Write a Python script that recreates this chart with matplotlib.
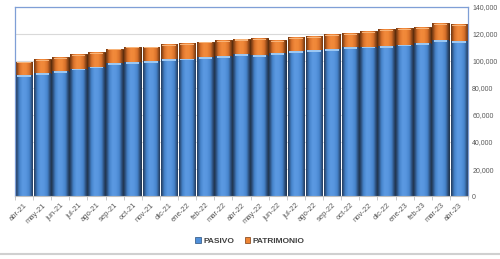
import matplotlib
matplotlib.use("Agg")
import matplotlib.pyplot as plt
import numpy as np
from matplotlib.lines import Line2D
from matplotlib.patches import Patch
from matplotlib.colors import LinearSegmentedColormap

meses = ["abr-21", "may-21", "jun-21", "jul-21", "ago-21", "sep-21", "oct-21", "nov-21",
         "dic-21", "ene-22", "feb-22", "mar-22", "abr-22", "may-22", "jun-22", "jul-22",
         "ago-22", "sep-22", "oct-22", "nov-22", "dic-22", "ene-23", "feb-23", "mar-23", "abr-23"]
pasivo = [89.4, 90.9, 92.3, 94.3, 95.8, 98.3, 99.0, 99.8, 101.2, 101.7, 102.7, 103.7, 105.0,
          104.4, 105.7, 107.4, 107.9, 108.6, 110.1, 110.6, 110.9, 112.1, 113.1, 115.3, 114.8]
total = [99.5, 101.2, 102.7, 105.0, 106.4, 109.1, 110.6, 110.6, 112.3, 113.1, 114.3, 115.3, 116.3,
         116.8, 115.3, 117.5, 118.3, 119.7, 120.5, 122.0, 123.5, 124.2, 124.9, 127.9, 127.2]
patrimonio = [t - p for t, p in zip(total, pasivo)]
yticks = [0, 20, 40, 60, 80, 100, 120, 140]
ylabels = ["0", "20,000", "40,000", "60,000", "80,000", "100,000", "120,000", "140,000"]

plt.rcParams['font.family'] = ['Liberation Sans', 'DejaVu Sans']
fig = plt.figure(figsize=(5, 2.59), dpi=100)
ax = fig.add_axes([0.03, 0.243, 0.906, 0.730])

x = np.arange(len(meses))
w = 0.92
blue_c = "#4f8fd9"
orange_c = "#ee8433"
b1 = ax.bar(x, pasivo, width=w, color=blue_c, edgecolor="#1e3550", linewidth=0.7, zorder=2)
b2 = ax.bar(x, patrimonio, width=w, bottom=pasivo, color=orange_c, edgecolor="#5a2a08",
            linewidth=0.7, zorder=2)


def shade(bars, cmap_colors):
    cm = LinearSegmentedColormap.from_list("g", cmap_colors)
    grad = np.linspace(0, 1, 64).reshape(1, -1)
    for r in bars:
        x0, y0 = r.get_x(), r.get_y()
        ww, hh = r.get_width(), r.get_height()
        im = ax.imshow(grad, cmap=cm, extent=[x0, x0 + ww, y0, y0 + hh], aspect="auto",
                       zorder=2.1, interpolation="bicubic")
        im.set_clip_path(r)


shade(b1, ["#22395a", "#4684cc", "#5c9ae3", "#5896df", "#4684cc", "#22395a"])
shade(b2, ["#6b3410", "#d9712a", "#f28a3c", "#f08838", "#d9712a", "#6b3410"])
ax.bar(x, [1.2] * len(x), width=w * 0.8, bottom=[p - 1.2 for p in pasivo], color="#9cc7f2",
       zorder=2.2, linewidth=0)
ax.bar(x, [1.0] * len(x), width=w * 0.8, bottom=[t - 1.2 for t in total], color="#f7b47a",
       zorder=2.2, linewidth=0)

ax.set_xlim(-0.5, len(meses) - 0.5)
ax.set_ylim(0, 140)
ax.set_yticks(yticks)
ax.set_yticklabels(ylabels)
ax.yaxis.tick_right()
ax.tick_params(axis="y", length=0, pad=3, labelsize=5, labelcolor="#595959")
ax.set_xticks(x)
ax.set_xticklabels(meses, rotation=45, ha="right", rotation_mode="anchor")
ax.tick_params(axis="x", length=0, pad=4, labelsize=5.5, labelcolor="#595959")
ax.set_xticks(np.arange(-0.5, len(meses), 1), minor=True)
ax.tick_params(axis="x", which="minor", length=3, color="#bfbfbf", width=0.6)
ax.grid(axis="y", color="#d9d9d9", linewidth=0.8, zorder=0)
ax.set_axisbelow(True)
for s in ["left", "top", "right"]:
    ax.spines[s].set_color("#7f9fd6")
    ax.spines[s].set_linewidth(0.9)
ax.spines["bottom"].set_color("#bfbfbf")
ax.spines["bottom"].set_linewidth(0.8)

handles = [Patch(facecolor=blue_c, edgecolor="#2a4f7a", linewidth=0.5),
           Patch(facecolor=orange_c, edgecolor="#7a3a10", linewidth=0.5)]
leg = fig.legend(handles, ["PASIVO", "PATRIMONIO"], loc="center", bbox_to_anchor=(0.5, 0.07),
                 ncol=2, frameon=False, fontsize=6, handlelength=0.7, handleheight=0.7,
                 handletextpad=0.3, columnspacing=1.2)
for t in leg.get_texts():
    t.set_color("#404040")
    t.set_fontweight("bold")

fig.add_artist(Line2D([0, 1], [0.018, 0.018], transform=fig.transFigure, color="#d0d0d0",
                      linewidth=1.5))

fig.savefig("out.png", dpi=100)
